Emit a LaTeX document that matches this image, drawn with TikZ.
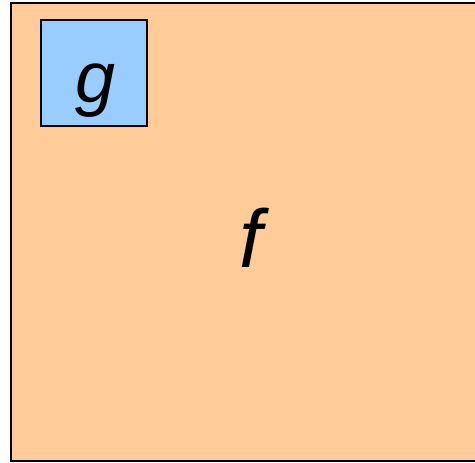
\documentclass[tikz,border=0pt]{standalone}
\usepackage{fontspec}
\setmainfont{Liberation Sans}
\definecolor{outerfill}{HTML}{FFCC99}
\definecolor{innerfill}{HTML}{99CCFF}
\tikzset{
  outerbox/.style={fill=outerfill, draw=black, line width=2pt},
  innerbox/.style={fill=innerfill, draw=black, line width=1.5pt},
  lbl/.style={anchor=base, inner sep=0pt, font=\itshape}
}
\begin{document}
\begin{tikzpicture}[x=1pt,y=1pt]
\useasboundingbox (0,0) rectangle (475,463);
\clip (0,0) rectangle (475,463);

% Kotak luar f
\filldraw[outerbox] (10.5,1.5) rectangle (485,459.5);

% Kotak dalam g
\filldraw[innerbox] (41,337) rectangle (147,443);

% Label
\node[lbl, font=\itshape\fontsize{72}{72}\selectfont] (g) at (96,360) {g};
\node[lbl, font=\itshape\fontsize{82}{82}\selectfont] (f) at (251,195) {f};
\end{tikzpicture}
\end{document}
